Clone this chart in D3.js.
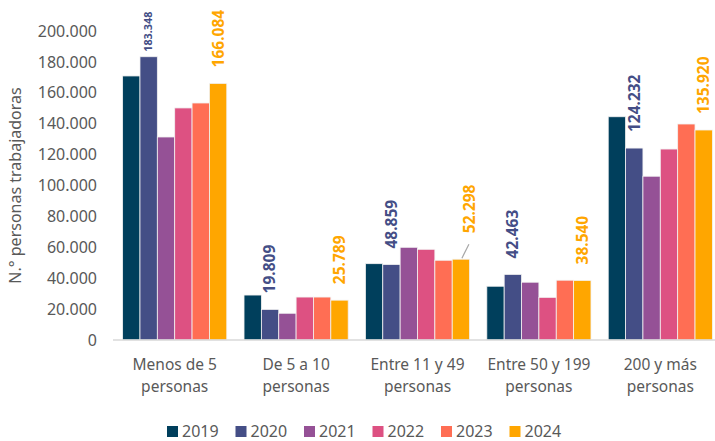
<!DOCTYPE html>
<html>
<head>
<meta charset="utf-8">
<script src="https://cdn.jsdelivr.net/npm/d3@7"></script>
<style>
  body { margin: 0; background: #fff; }
  svg { display: block; font-family: "Noto Sans", sans-serif; }
</style>
</head>
<body>
<svg id="chart" width="715" height="441"></svg>
<script>
// data
var categories = [
  ["Menos de 5", "personas"],
  ["De 5 a 10", "personas"],
  ["Entre 11 y 49", "personas"],
  ["Entre 50 y 199", "personas"],
  ["200 y más", "personas"]
];
var years = ["2019", "2020", "2021", "2022", "2023", "2024"];
var colors = ["#003f5c", "#444e86", "#955196", "#dd5182", "#ff6e54", "#ffa600"];

var v2019 = [170900, 29100, 49400, 34800, 144500];
var v2020 = [183348, 19809, 48859, 42463, 124232];
var v2021 = [131400, 17300, 60000, 37400, 106000];
var v2022 = [150200, 27800, 58700, 27600, 123600];
var v2023 = [153400, 27800, 51600, 38700, 139800];
var v2024 = [166084, 25789, 52298, 38540, 135920];
var series = [v2019, v2020, v2021, v2022, v2023, v2024];

var yTicks = [0, 20000, 40000, 60000, 80000, 100000, 120000, 140000, 160000, 180000, 200000];
// only these years carry value labels
var labelled = ["2020", "2024"];

var svg = d3.select("#chart");
var margin = { top: 31, left: 114, right: -6, bottom: 101 };
var width = 715 - margin.left - margin.right,
    height = 441 - margin.top - margin.bottom;

var g = svg.append("g")
  .attr("transform", "translate(" + margin.left + "," + margin.top + ")");

var x0 = d3.scaleBand()
  .domain(d3.range(categories.length))
  .range([0, width])
  .paddingInner(0.142)
  .paddingOuter(0.071);
var x1 = d3.scaleBand()
  .domain(years)
  .range([0, x0.bandwidth()]);
var y = d3.scaleLinear()
  .domain([0, 200000])
  .range([height, 0]);

var fmt = function(v) {
  return d3.format(",")(v).replace(/,/g, ".");
};

// y axis (labels only)
var yAxis = g.append("g")
  .call(d3.axisLeft(y).tickValues(yTicks).tickFormat(fmt).tickSize(0).tickPadding(17));
yAxis.select(".domain").remove();
yAxis.selectAll("text")
  .attr("fill", "#595959")
  .style("font-size", "16px")
  .style("font-family", "'Noto Sans', sans-serif");

g.append("text")
  .attr("transform", "rotate(-90)")
  .attr("x", -height / 2)
  .attr("y", -93)
  .attr("text-anchor", "middle")
  .attr("fill", "#595959")
  .style("font-size", "16px")
  .text("N.° personas trabajadoras");

// bars
var groups = g.selectAll(".cat")
  .data(categories)
  .enter()
  .append("g")
  .attr("class", "cat")
  .attr("transform", function(d, i) { return "translate(" + x0(i) + ",0)"; });

groups.selectAll("rect")
  .data(function(d, i) {
    return years.map(function(yr, k) { return { year: yr, k: k, value: series[k][i], cat: i }; });
  })
  .enter()
  .append("rect")
  .attr("x", function(d) { return x1(d.year); })
  .attr("y", function(d) { return y(d.value); })
  .attr("width", x1.bandwidth())
  .attr("height", function(d) { return height - y(d.value); })
  .attr("fill", function(d) { return colors[d.k]; })
  .attr("stroke", "#f2f2f2")
  .attr("stroke-width", 0.8);

// x axis line
g.append("line")
  .attr("x1", -1).attr("x2", width)
  .attr("y1", height).attr("y2", height)
  .attr("stroke", "#d9d9d9")
  .attr("stroke-width", 1.3);

// category labels
var catLab = g.selectAll(".catlab")
  .data(categories)
  .enter()
  .append("text")
  .attr("class", "catlab")
  .attr("text-anchor", "middle")
  .attr("fill", "#595959")
  .style("font-size", "15.5px")
  .attr("transform", function(d, i) {
    return "translate(" + (x0(i) + x0.bandwidth() / 2) + "," + (height + 30) + ")";
  });
catLab.selectAll("tspan")
  .data(function(d) { return d; })
  .enter()
  .append("tspan")
  .attr("x", 0)
  .attr("dy", function(d, i) { return i === 0 ? 0 : 22; })
  .text(function(d) { return d; });

// value labels (rotated)
labelled.forEach(function(yr) {
  var k = years.indexOf(yr);
  series[k].forEach(function(v, i) {
    var cx = x0(i) + x1(yr) + x1.bandwidth() / 2;
    var gap = 16, dx = 0, size = 15.5;
    if (yr === "2020" && i === 0) { gap = 5; size = 10.8; }
    if (yr === "2024" && i === 2) { gap = 26; dx = 9; }
    var top = y(v) - gap;
    if (dx) {
      g.append("line")
        .attr("x1", cx + 1).attr("y1", y(v) - 1)
        .attr("x2", cx + dx - 1).attr("y2", top + 11)
        .attr("stroke", "#a6a6a6")
        .attr("stroke-width", 1.2);
    }
    g.append("text")
      .attr("transform", "translate(" + (cx + dx) + "," + top + ") rotate(-90)")
      .attr("dy", "0.35em")
      .attr("fill", colors[k])
      .style("font-size", size + "px")
      .style("font-weight", "bold")
      .text(fmt(v));
  });
});

// legend
var legend = svg.append("g")
  .attr("transform", "translate(167,425)");
var item = legend.selectAll("g")
  .data(years)
  .enter()
  .append("g")
  .attr("transform", function(d, i) { return "translate(" + (i * 68.5) + ",0)"; });
item.append("rect")
  .attr("y", 1)
  .attr("width", 11)
  .attr("height", 11)
  .attr("fill", function(d, i) { return colors[i]; });
item.append("text")
  .attr("x", 15)
  .attr("y", 12)
  .attr("fill", "#595959")
  .style("font-size", "16px")
  .text(function(d) { return d; });
</script>
</body>
</html>
